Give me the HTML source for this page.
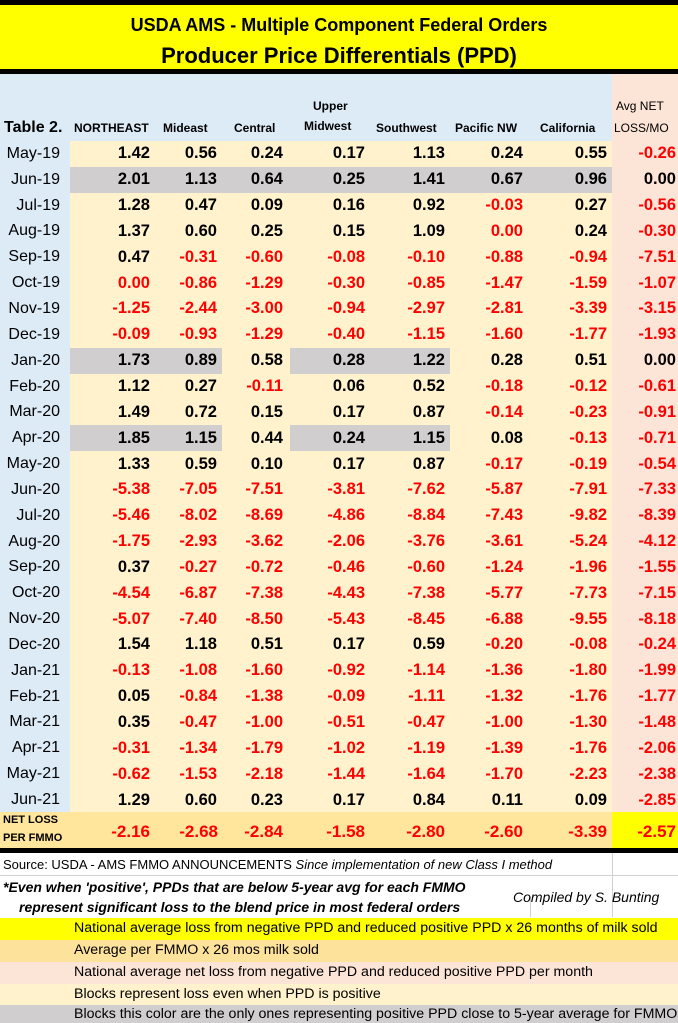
<!DOCTYPE html>
<html><head><meta charset="utf-8"><style>
*{margin:0;padding:0;box-sizing:border-box}
body{width:678px;height:1023px;overflow:hidden;background:#fff;font-family:"Liberation Sans",sans-serif;position:relative}
.abs{position:absolute}
#t1{left:0;top:0;width:678px;height:5px;background:#000}
#title{left:0;top:5px;width:678px;height:64px;background:#ffff00;text-align:center;font-weight:bold;color:#000}
#l1{position:absolute;left:0;width:678px;top:10px;font-size:18px}
#l2{position:absolute;left:0;width:678px;top:38px;font-size:22px}
#t2{left:0;top:69px;width:678px;height:5px;background:#000}
#hdr{left:0;top:74px;width:612px;height:67px;background:#ddebf7}
#hdrav{left:612px;top:74px;width:66px;height:67px;background:#fce4d6}
.h{position:absolute;font-weight:bold;font-size:12px;color:#000;white-space:nowrap}
table{position:absolute;left:0;top:141px;border-collapse:collapse;table-layout:fixed}
td{height:25.85px;padding:0;text-align:right;font-weight:bold;font-size:16.5px;background:#fff2cc;color:#000;white-space:nowrap;padding-right:5px}
td:first-child{background:#ddebf7;font-weight:normal;font-size:16px;padding-right:10px}
td:nth-child(4){padding-right:7px}
td:last-child{background:#fce4d6;padding-right:2px}
.r{color:#ff0000}
td.g{background:#d0cecf}
#net{left:0;top:812px;width:612px;height:36px;background:#ffe69c}
#netav{left:612px;top:812px;width:66px;height:36px;background:#ffff00}
.nv{position:absolute;top:822px;font-size:17px;font-weight:bold;color:#ff0000;text-align:right}
#t3{left:0;top:848px;width:678px;height:5px;background:#000}
.vl{position:absolute;width:1px;background:#d0d0d0;top:853px;height:64px}
.lg{position:absolute;left:0;width:678px;font-size:14.2px;padding-left:74px;line-height:21px;color:#000;white-space:nowrap;overflow:hidden}
</style></head><body>
<div class="abs" id="t1"></div>
<div class="abs" id="title"><div id="l1">USDA AMS - Multiple Component Federal Orders</div><div id="l2">Producer Price Differentials (PPD)</div></div>
<div class="abs" id="t2"></div>
<div class="abs" id="hdr"></div><div class="abs" id="hdrav"></div>
<div class="h" style="left:4px;top:119px;font-size:16px">Table 2.</div>
<div class="h" style="left:74px;top:121px">NORTHEAST</div>
<div class="h" style="left:163px;top:121px">Mideast</div>
<div class="h" style="left:234px;top:121px">Central</div>
<div class="h" style="left:313px;top:99px">Upper</div>
<div class="h" style="left:304px;top:119px">Midwest</div>
<div class="h" style="left:376px;top:121px">Southwest</div>
<div class="h" style="left:455px;top:121px">Pacific NW</div>
<div class="h" style="left:540px;top:121px">California</div>
<div class="h" style="left:616px;top:99px;font-weight:normal">Avg NET</div>
<div class="h" style="left:614px;top:121px;font-weight:normal">LOSS/MO</div>
<table>
<colgroup><col style="width:70px"><col style="width:85px"><col style="width:67px"><col style="width:68px"><col style="width:80px"><col style="width:80px"><col style="width:78px"><col style="width:84px"><col style="width:66px"></colgroup>
<tr><td>May-19</td><td>1.42</td><td>0.56</td><td>0.24</td><td>0.17</td><td>1.13</td><td>0.24</td><td>0.55</td><td class="r">-0.26</td></tr>
<tr><td>Jun-19</td><td class="g">2.01</td><td class="g">1.13</td><td class="g">0.64</td><td class="g">0.25</td><td class="g">1.41</td><td class="g">0.67</td><td class="g">0.96</td><td>0.00</td></tr>
<tr><td>Jul-19</td><td>1.28</td><td>0.47</td><td>0.09</td><td>0.16</td><td>0.92</td><td class="r">-0.03</td><td>0.27</td><td class="r">-0.56</td></tr>
<tr><td>Aug-19</td><td>1.37</td><td>0.60</td><td>0.25</td><td>0.15</td><td>1.09</td><td class="r">0.00</td><td>0.24</td><td class="r">-0.30</td></tr>
<tr><td>Sep-19</td><td>0.47</td><td class="r">-0.31</td><td class="r">-0.60</td><td class="r">-0.08</td><td class="r">-0.10</td><td class="r">-0.88</td><td class="r">-0.94</td><td class="r">-7.51</td></tr>
<tr><td>Oct-19</td><td class="r">0.00</td><td class="r">-0.86</td><td class="r">-1.29</td><td class="r">-0.30</td><td class="r">-0.85</td><td class="r">-1.47</td><td class="r">-1.59</td><td class="r">-1.07</td></tr>
<tr><td>Nov-19</td><td class="r">-1.25</td><td class="r">-2.44</td><td class="r">-3.00</td><td class="r">-0.94</td><td class="r">-2.97</td><td class="r">-2.81</td><td class="r">-3.39</td><td class="r">-3.15</td></tr>
<tr><td>Dec-19</td><td class="r">-0.09</td><td class="r">-0.93</td><td class="r">-1.29</td><td class="r">-0.40</td><td class="r">-1.15</td><td class="r">-1.60</td><td class="r">-1.77</td><td class="r">-1.93</td></tr>
<tr><td>Jan-20</td><td class="g">1.73</td><td class="g">0.89</td><td>0.58</td><td class="g">0.28</td><td class="g">1.22</td><td>0.28</td><td>0.51</td><td>0.00</td></tr>
<tr><td>Feb-20</td><td>1.12</td><td>0.27</td><td class="r">-0.11</td><td>0.06</td><td>0.52</td><td class="r">-0.18</td><td class="r">-0.12</td><td class="r">-0.61</td></tr>
<tr><td>Mar-20</td><td>1.49</td><td>0.72</td><td>0.15</td><td>0.17</td><td>0.87</td><td class="r">-0.14</td><td class="r">-0.23</td><td class="r">-0.91</td></tr>
<tr><td>Apr-20</td><td class="g">1.85</td><td class="g">1.15</td><td>0.44</td><td class="g">0.24</td><td class="g">1.15</td><td>0.08</td><td class="r">-0.13</td><td class="r">-0.71</td></tr>
<tr><td>May-20</td><td>1.33</td><td>0.59</td><td>0.10</td><td>0.17</td><td>0.87</td><td class="r">-0.17</td><td class="r">-0.19</td><td class="r">-0.54</td></tr>
<tr><td>Jun-20</td><td class="r">-5.38</td><td class="r">-7.05</td><td class="r">-7.51</td><td class="r">-3.81</td><td class="r">-7.62</td><td class="r">-5.87</td><td class="r">-7.91</td><td class="r">-7.33</td></tr>
<tr><td>Jul-20</td><td class="r">-5.46</td><td class="r">-8.02</td><td class="r">-8.69</td><td class="r">-4.86</td><td class="r">-8.84</td><td class="r">-7.43</td><td class="r">-9.82</td><td class="r">-8.39</td></tr>
<tr><td>Aug-20</td><td class="r">-1.75</td><td class="r">-2.93</td><td class="r">-3.62</td><td class="r">-2.06</td><td class="r">-3.76</td><td class="r">-3.61</td><td class="r">-5.24</td><td class="r">-4.12</td></tr>
<tr><td>Sep-20</td><td>0.37</td><td class="r">-0.27</td><td class="r">-0.72</td><td class="r">-0.46</td><td class="r">-0.60</td><td class="r">-1.24</td><td class="r">-1.96</td><td class="r">-1.55</td></tr>
<tr><td>Oct-20</td><td class="r">-4.54</td><td class="r">-6.87</td><td class="r">-7.38</td><td class="r">-4.43</td><td class="r">-7.38</td><td class="r">-5.77</td><td class="r">-7.73</td><td class="r">-7.15</td></tr>
<tr><td>Nov-20</td><td class="r">-5.07</td><td class="r">-7.40</td><td class="r">-8.50</td><td class="r">-5.43</td><td class="r">-8.45</td><td class="r">-6.88</td><td class="r">-9.55</td><td class="r">-8.18</td></tr>
<tr><td>Dec-20</td><td>1.54</td><td>1.18</td><td>0.51</td><td>0.17</td><td>0.59</td><td class="r">-0.20</td><td class="r">-0.08</td><td class="r">-0.24</td></tr>
<tr><td>Jan-21</td><td class="r">-0.13</td><td class="r">-1.08</td><td class="r">-1.60</td><td class="r">-0.92</td><td class="r">-1.14</td><td class="r">-1.36</td><td class="r">-1.80</td><td class="r">-1.99</td></tr>
<tr><td>Feb-21</td><td>0.05</td><td class="r">-0.84</td><td class="r">-1.38</td><td class="r">-0.09</td><td class="r">-1.11</td><td class="r">-1.32</td><td class="r">-1.76</td><td class="r">-1.77</td></tr>
<tr><td>Mar-21</td><td>0.35</td><td class="r">-0.47</td><td class="r">-1.00</td><td class="r">-0.51</td><td class="r">-0.47</td><td class="r">-1.00</td><td class="r">-1.30</td><td class="r">-1.48</td></tr>
<tr><td>Apr-21</td><td class="r">-0.31</td><td class="r">-1.34</td><td class="r">-1.79</td><td class="r">-1.02</td><td class="r">-1.19</td><td class="r">-1.39</td><td class="r">-1.76</td><td class="r">-2.06</td></tr>
<tr><td>May-21</td><td class="r">-0.62</td><td class="r">-1.53</td><td class="r">-2.18</td><td class="r">-1.44</td><td class="r">-1.64</td><td class="r">-1.70</td><td class="r">-2.23</td><td class="r">-2.38</td></tr>
<tr><td>Jun-21</td><td>1.29</td><td>0.60</td><td>0.23</td><td>0.17</td><td>0.84</td><td>0.11</td><td>0.09</td><td class="r">-2.85</td></tr>
</table>
<div class="abs" id="net"></div><div class="abs" id="netav"></div>
<div class="h" style="left:3px;top:814px;font-size:11px">NET LOSS</div>
<div class="h" style="left:3px;top:832px;font-size:11px">PER FMMO</div>
<div class="nv" style="left:70px;width:80px">-2.16</div>
<div class="nv" style="left:155px;width:63px">-2.68</div>
<div class="nv" style="left:222px;width:61px">-2.84</div>
<div class="nv" style="left:290px;width:75px">-1.58</div>
<div class="nv" style="left:370px;width:75px">-2.80</div>
<div class="nv" style="left:450px;width:73px">-2.60</div>
<div class="nv" style="left:528px;width:79px">-3.39</div>
<div class="nv" style="left:612px;width:64px">-2.57</div>
<div class="abs" id="t3"></div>
<div class="vl" style="left:530px;top:897px;height:20px"></div>
<div class="vl" style="left:612px"></div>
<div class="abs" style="left:0;top:875px;width:678px;height:1px;background:#d0d0d0"></div>
<div class="abs" style="left:3px;top:857px;font-size:13px;white-space:nowrap">Source: USDA - AMS FMMO ANNOUNCEMENTS <i>Since implementation of new Class I method</i></div>
<div class="abs" style="left:3px;top:879px;font-size:14px;font-weight:bold;font-style:italic;white-space:nowrap">*Even when 'positive', PPDs that are below 5-year avg for each FMMO</div>
<div class="abs" style="left:19px;top:899px;font-size:14px;font-weight:bold;font-style:italic;white-space:nowrap">represent significant loss to the blend price in most federal orders</div>
<div class="abs" style="left:513px;top:889px;font-size:14px;font-style:italic;white-space:nowrap">Compiled by S. Bunting</div>
<div class="lg" style="top:918px;height:22px;background:#ffff00">National average loss from negative PPD and reduced positive PPD x 26 months of milk sold</div>
<div class="lg" style="top:940px;height:22px;background:#fde29c">Average per FMMO x 26 mos milk sold</div>
<div class="lg" style="top:962px;height:22px;background:#fce4d6">National average net loss from negative PPD and reduced positive PPD per month</div>
<div class="lg" style="top:984px;height:21px;background:#fff2cc">Blocks represent loss even when PPD is positive</div>
<div class="lg" style="top:1005px;height:18px;background:#d0cecf;line-height:18px">Blocks this color are the only ones representing positive PPD close to 5-year average for FMMO</div>
</body></html>
